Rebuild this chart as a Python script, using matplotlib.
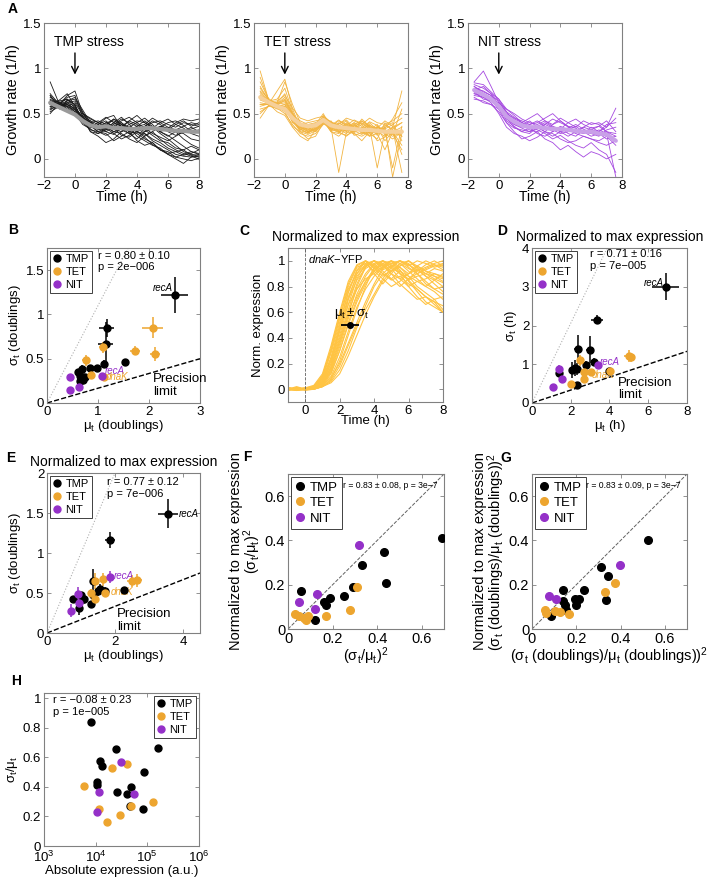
import matplotlib
matplotlib.use('Agg')
import matplotlib.pyplot as plt
from matplotlib.lines import Line2D
from matplotlib.ticker import FuncFormatter, NullLocator

plt.rcParams['font.family'] = ['Liberation Sans', 'DejaVu Sans']
plt.rcParams['mathtext.fontset'] = 'custom'
plt.rcParams['mathtext.rm'] = 'Liberation Sans'
plt.rcParams['mathtext.it'] = 'Liberation Sans:italic'
plt.rcParams['mathtext.default'] = 'regular'

TMP_C = 'k'
TET_C = '#EDA52F'
NIT_C = '#9430C8'

# ---------------- panel A: growth rate traces ----------------
t_grid = [-1.6, -1, -0.5, 0, 0.5, 1, 1.5, 2, 2.5, 3, 3.5, 4, 4.5, 5, 5.5, 6, 6.5, 7, 7.6]
t_tmp = [-1.6, -1, -0.5, 0, 0.5, 1, 1.5, 2, 2.5, 3, 3.5, 4, 4.5, 5, 5.5, 6, 6.5, 7, 7.5, 8]

tmp_traces = [
    [0.62, 0.58, 0.60, 0.55, 0.45, 0.38, 0.35, 0.40, 0.42, 0.38, 0.35, 0.30, 0.28, 0.20, 0.15, 0.10, 0.05, 0.03, 0.02, 0.03],
    [0.85, 0.60, 0.70, 0.75, 0.50, 0.40, 0.33, 0.30, 0.35, 0.40, 0.30, 0.32, 0.36, 0.40, 0.42, 0.38, 0.35, 0.40, 0.38, 0.36],
    [0.50, 0.62, 0.55, 0.50, 0.48, 0.36, 0.30, 0.28, 0.20, 0.25, 0.30, 0.28, 0.22, 0.18, 0.10, 0.05, 0.02, 0.00, -0.02, 0.01],
    [0.70, 0.55, 0.65, 0.60, 0.40, 0.42, 0.38, 0.45, 0.48, 0.35, 0.32, 0.35, 0.30, 0.33, 0.35, 0.40, 0.42, 0.37, 0.30, 0.32],
    [0.60, 0.65, 0.72, 0.58, 0.44, 0.30, 0.25, 0.18, 0.22, 0.30, 0.35, 0.25, 0.20, 0.15, 0.12, 0.05, 0.00, -0.05, 0.02, 0.05],
    [0.55, 0.60, 0.58, 0.52, 0.50, 0.45, 0.40, 0.36, 0.30, 0.33, 0.38, 0.42, 0.40, 0.35, 0.28, 0.22, 0.15, 0.08, 0.05, 0.04],
    [0.65, 0.58, 0.62, 0.54, 0.40, 0.35, 0.37, 0.33, 0.38, 0.44, 0.40, 0.36, 0.38, 0.45, 0.40, 0.35, 0.32, 0.36, 0.40, 0.38],
    [0.58, 0.62, 0.66, 0.60, 0.42, 0.38, 0.30, 0.35, 0.30, 0.28, 0.22, 0.18, 0.25, 0.30, 0.22, 0.15, 0.10, 0.06, 0.03, 0.00],
    [0.72, 0.60, 0.55, 0.48, 0.46, 0.40, 0.42, 0.38, 0.33, 0.30, 0.35, 0.40, 0.45, 0.38, 0.30, 0.25, 0.30, 0.28, 0.22, 0.20],
    [0.60, 0.56, 0.64, 0.66, 0.52, 0.36, 0.34, 0.40, 0.36, 0.32, 0.28, 0.30, 0.35, 0.32, 0.36, 0.30, 0.26, 0.30, 0.35, 0.30],
    [0.64, 0.60, 0.57, 0.50, 0.38, 0.33, 0.28, 0.32, 0.40, 0.36, 0.30, 0.20, 0.15, 0.18, 0.10, 0.08, 0.02, 0.05, 0.08, 0.06],
    [0.56, 0.63, 0.60, 0.56, 0.46, 0.40, 0.36, 0.30, 0.27, 0.34, 0.42, 0.38, 0.32, 0.26, 0.20, 0.18, 0.12, 0.10, 0.14, 0.10],
    [0.68, 0.62, 0.58, 0.62, 0.48, 0.42, 0.32, 0.36, 0.44, 0.40, 0.34, 0.30, 0.26, 0.30, 0.36, 0.34, 0.30, 0.22, 0.16, 0.12],
    [0.52, 0.58, 0.62, 0.58, 0.44, 0.34, 0.38, 0.42, 0.34, 0.26, 0.24, 0.30, 0.36, 0.42, 0.38, 0.32, 0.38, 0.34, 0.28, 0.25],
    [0.66, 0.60, 0.68, 0.70, 0.46, 0.30, 0.28, 0.34, 0.40, 0.46, 0.38, 0.30, 0.24, 0.16, 0.10, 0.06, 0.08, 0.04, 0.06, 0.10],
    [0.58, 0.56, 0.62, 0.64, 0.50, 0.44, 0.40, 0.34, 0.28, 0.22, 0.26, 0.34, 0.28, 0.22, 0.18, 0.12, 0.08, 0.10, 0.04, 0.02],
    [0.62, 0.64, 0.66, 0.56, 0.42, 0.36, 0.40, 0.46, 0.40, 0.36, 0.42, 0.48, 0.40, 0.34, 0.40, 0.44, 0.38, 0.42, 0.36, 0.40],
    [0.70, 0.58, 0.60, 0.52, 0.40, 0.32, 0.30, 0.26, 0.30, 0.34, 0.28, 0.22, 0.30, 0.36, 0.30, 0.26, 0.20, 0.14, 0.08, 0.05],
    [0.54, 0.60, 0.64, 0.68, 0.54, 0.40, 0.36, 0.32, 0.36, 0.42, 0.46, 0.40, 0.34, 0.28, 0.24, 0.20, 0.25, 0.30, 0.33, 0.36],
    [0.60, 0.62, 0.58, 0.54, 0.44, 0.38, 0.34, 0.38, 0.44, 0.38, 0.32, 0.36, 0.42, 0.36, 0.30, 0.34, 0.40, 0.44, 0.42, 0.44],
]
tmp_mean = [0.62, 0.57, 0.53, 0.49, 0.42, 0.37, 0.35, 0.36, 0.34, 0.34, 0.33, 0.33, 0.34, 0.34, 0.33, 0.32, 0.31, 0.31, 0.30, 0.30]

tet_traces = [
    [0.97, 0.62, 0.75, 0.88, 0.55, 0.35, 0.30, 0.33, 0.45, 0.38, 0.32, 0.35, 0.40, 0.30, 0.25, 0.35, 0.30, 0.28, 0.32],
    [0.45, 0.60, 0.62, 0.85, 0.60, 0.40, 0.35, 0.30, 0.42, 0.30, 0.28, 0.40, 0.35, 0.32, 0.38, 0.30, 0.25, 0.35, 0.40],
    [0.70, 0.65, 0.58, 0.60, 0.45, 0.30, 0.22, 0.25, 0.40, 0.35, -0.15, 0.30, 0.38, 0.28, 0.30, 0.35, 0.20, 0.30, 0.35],
    [0.80, 0.63, 0.62, 0.72, 0.50, 0.38, 0.40, 0.42, 0.44, 0.32, 0.40, 0.35, 0.30, 0.42, 0.35, -0.10, 0.30, 0.25, 0.30],
    [0.60, 0.60, 0.55, 0.55, 0.42, 0.33, 0.28, 0.35, 0.48, 0.40, 0.35, 0.30, 0.28, 0.25, 0.30, 0.28, 0.35, -0.20, 0.28],
    [0.75, 0.66, 0.60, 0.65, 0.48, 0.42, 0.38, 0.40, 0.45, 0.36, 0.42, 0.38, 0.35, 0.30, 0.40, 0.32, 0.30, 0.35, 0.75],
    [0.55, 0.58, 0.56, 0.50, 0.38, 0.28, 0.25, 0.28, 0.38, 0.42, 0.30, 0.25, 0.32, 0.38, 0.28, 0.22, 0.40, 0.30, 0.15],
    [0.85, 0.64, 0.66, 0.78, 0.52, 0.35, 0.32, 0.38, 0.50, 0.34, 0.36, 0.42, 0.30, 0.35, 0.32, 0.38, 0.28, 0.22, 0.30],
    [0.65, 0.61, 0.58, 0.58, 0.40, 0.36, 0.33, 0.30, 0.40, 0.38, 0.33, 0.28, 0.36, 0.40, 0.34, 0.30, 0.33, 0.38, 0.45],
    [0.72, 0.62, 0.60, 0.62, 0.46, 0.40, 0.30, 0.36, 0.43, 0.35, 0.30, 0.32, 0.40, 0.36, 0.25, 0.28, 0.10, 0.30, 0.25],
    [0.50, 0.60, 0.52, 0.48, 0.35, 0.25, 0.20, 0.32, 0.42, 0.30, 0.25, 0.33, 0.28, 0.20, 0.30, 0.35, 0.32, 0.28, 0.10],
    [0.90, 0.63, 0.64, 0.70, 0.56, 0.45, 0.42, 0.45, 0.47, 0.40, 0.38, 0.45, 0.42, 0.38, 0.45, 0.40, 0.38, 0.42, 0.50],
    [0.68, 0.62, 0.59, 0.56, 0.44, 0.32, 0.36, 0.34, 0.41, 0.37, 0.43, 0.36, 0.33, 0.44, 0.36, 0.26, 0.36, 0.40, 0.20],
    [0.62, 0.60, 0.57, 0.52, 0.36, 0.30, 0.27, 0.31, 0.39, 0.33, 0.29, 0.26, 0.31, 0.27, 0.33, 0.20, 0.24, 0.33, -0.15],
    [0.78, 0.64, 0.61, 0.66, 0.50, 0.37, 0.34, 0.37, 0.46, 0.39, 0.36, 0.31, 0.37, 0.33, 0.29, 0.36, 0.31, -0.10, 0.36],
    [0.58, 0.61, 0.60, 0.54, 0.43, 0.34, 0.31, 0.33, 0.44, 0.31, 0.34, 0.39, 0.26, 0.29, 0.37, 0.33, 0.29, 0.27, 0.55],
    [0.66, 0.62, 0.60, 0.64, 0.47, 0.36, 0.33, 0.35, 0.44, 0.36, 0.31, 0.37, 0.43, 0.39, 0.33, 0.29, 0.34, 0.44, 0.62],
    [0.52, 0.59, 0.56, 0.58, 0.41, 0.31, 0.29, 0.34, 0.46, 0.41, 0.37, 0.33, 0.29, 0.34, 0.41, 0.37, 0.27, 0.31, 0.05],
    [0.74, 0.63, 0.61, 0.68, 0.49, 0.39, 0.37, 0.39, 0.45, 0.33, 0.30, 0.34, 0.38, 0.42, 0.36, 0.31, 0.37, 0.33, 0.40],
    [0.60, 0.61, 0.58, 0.60, 0.44, 0.33, 0.29, 0.32, 0.41, 0.36, 0.39, 0.43, 0.34, 0.30, 0.26, 0.34, 0.42, 0.36, 0.25],
]
tet_mean = [0.68, 0.62, 0.58, 0.55, 0.45, 0.38, 0.36, 0.37, 0.43, 0.37, 0.35, 0.34, 0.33, 0.32, 0.32, 0.31, 0.30, 0.30, 0.30]

nit_traces = [
    [0.85, 0.97, 0.80, 0.62, 0.55, 0.48, 0.40, 0.45, 0.50, 0.42, 0.38, 0.45, 0.40, 0.35, 0.42, 0.38, 0.40, 0.35, 0.56],
    [0.75, 0.70, 0.65, 0.55, 0.45, 0.35, 0.30, 0.28, 0.35, 0.30, 0.25, 0.30, 0.32, 0.28, 0.25, 0.22, 0.20, 0.25, 0.15],
    [0.80, 0.72, 0.68, 0.60, 0.50, 0.45, 0.42, 0.38, 0.40, 0.45, 0.50, 0.42, 0.35, 0.30, 0.35, 0.40, 0.38, 0.30, 0.20],
    [0.68, 0.62, 0.60, 0.55, 0.40, 0.30, 0.22, 0.25, 0.30, 0.22, 0.18, 0.10, 0.15, 0.08, 0.02, 0.08, 0.05, 0.00, 0.05],
    [0.72, 0.70, 0.66, 0.62, 0.52, 0.40, 0.36, 0.42, 0.35, 0.30, 0.38, 0.42, 0.36, 0.30, 0.28, 0.35, 0.30, 0.38, 0.40],
    [0.78, 0.75, 0.70, 0.58, 0.48, 0.42, 0.38, 0.32, 0.30, 0.35, 0.32, 0.28, 0.30, 0.33, 0.30, 0.28, 0.32, 0.28, -0.20],
    [0.70, 0.68, 0.62, 0.50, 0.35, 0.28, 0.25, 0.20, 0.24, 0.30, 0.28, 0.22, 0.18, 0.20, 0.25, 0.22, 0.18, 0.15, 0.20],
    [0.82, 0.78, 0.72, 0.66, 0.55, 0.50, 0.44, 0.40, 0.38, 0.42, 0.36, 0.33, 0.40, 0.44, 0.38, 0.34, 0.36, 0.42, 0.30],
    [0.74, 0.66, 0.64, 0.58, 0.46, 0.38, 0.35, 0.38, 0.42, 0.36, 0.30, 0.35, 0.28, 0.25, 0.32, 0.30, 0.26, 0.30, 0.28],
    [0.76, 0.80, 0.72, 0.60, 0.42, 0.36, 0.30, 0.34, 0.28, 0.25, 0.30, 0.36, 0.32, 0.36, 0.30, 0.25, 0.28, 0.22, 0.25],
    [0.66, 0.64, 0.60, 0.52, 0.40, 0.34, 0.32, 0.30, 0.33, 0.38, 0.34, 0.30, 0.25, 0.30, 0.35, 0.32, 0.30, 0.35, 0.45],
    [0.80, 0.74, 0.70, 0.64, 0.50, 0.44, 0.40, 0.36, 0.32, 0.28, 0.22, 0.26, 0.20, 0.15, 0.12, 0.18, 0.10, 0.05, -0.15],
    [0.72, 0.68, 0.64, 0.56, 0.44, 0.38, 0.34, 0.30, 0.36, 0.40, 0.35, 0.30, 0.34, 0.38, 0.33, 0.28, 0.25, 0.32, 0.35],
    [0.84, 0.82, 0.74, 0.66, 0.52, 0.46, 0.40, 0.36, 0.34, 0.38, 0.44, 0.40, 0.36, 0.34, 0.28, 0.32, 0.36, 0.30, 0.25],
]
nit_mean = [0.76, 0.71, 0.66, 0.58, 0.47, 0.41, 0.37, 0.35, 0.35, 0.34, 0.33, 0.33, 0.32, 0.31, 0.30, 0.30, 0.28, 0.27, 0.20]

# ---------------- panel C: normalized dnaK-YFP expression ----------------
t_c = [-1, -0.5, 0, 0.5, 1, 1.5, 2, 2.5, 3, 3.5, 4, 4.5, 5, 5.5, 6, 6.5, 7, 7.5, 8]
dnak_traces = [
    [0, 0.01, 0, 0.02, 0.08, 0.25, 0.5, 0.75, 0.92, 1.0, 0.97, 0.9, 0.85, 0.88, 0.82, 0.78, 0.72, 0.68, 0.65],
    [0.01, 0, 0, 0.01, 0.04, 0.15, 0.35, 0.58, 0.8, 0.95, 1.0, 0.96, 0.92, 0.95, 0.9, 0.93, 0.88, 0.85, 0.8],
    [0, -0.01, 0, 0, 0.02, 0.08, 0.22, 0.42, 0.62, 0.8, 0.95, 1.0, 0.97, 0.92, 0.85, 0.88, 0.9, 0.94, 0.92],
    [-0.01, 0, 0, 0.01, 0.06, 0.2, 0.45, 0.7, 0.9, 1.0, 0.94, 0.88, 0.92, 0.96, 1.0, 0.95, 0.9, 0.86, 0.83],
    [0, 0.01, 0, 0, 0.03, 0.12, 0.3, 0.5, 0.68, 0.82, 0.92, 0.98, 1.0, 0.95, 0.88, 0.8, 0.75, 0.7, 0.62],
    [0, 0, 0, 0.02, 0.1, 0.3, 0.55, 0.8, 0.95, 0.98, 0.92, 0.86, 0.8, 0.84, 0.9, 0.96, 1.0, 0.97, 0.95],
    [0.01, 0, -0.01, 0, 0.02, 0.06, 0.15, 0.3, 0.48, 0.65, 0.8, 0.9, 0.96, 1.0, 0.97, 0.93, 0.9, 0.88, 0.86],
    [0, 0.02, 0, 0.01, 0.05, 0.18, 0.4, 0.62, 0.82, 0.96, 1.0, 0.97, 0.9, 0.82, 0.76, 0.7, 0.72, 0.68, 0.6],
    [0, 0, 0.01, 0.01, 0.07, 0.22, 0.48, 0.72, 0.88, 0.96, 1.0, 0.98, 0.95, 0.9, 0.86, 0.9, 0.93, 0.96, 0.98],
    [-0.01, 0.01, 0, 0, 0.03, 0.1, 0.25, 0.45, 0.64, 0.78, 0.88, 0.95, 1.0, 0.98, 0.94, 0.9, 0.84, 0.78, 0.74],
    [0, 0, 0, 0.02, 0.09, 0.28, 0.52, 0.76, 0.93, 1.0, 0.96, 0.93, 0.96, 1.0, 0.97, 0.92, 0.95, 0.98, 1.0],
    [0.01, 0, 0, 0.01, 0.04, 0.14, 0.33, 0.55, 0.74, 0.88, 0.97, 1.0, 0.94, 0.86, 0.8, 0.84, 0.8, 0.76, 0.7],
    [0, 0.01, 0, 0, 0.02, 0.05, 0.12, 0.26, 0.42, 0.58, 0.72, 0.84, 0.92, 0.98, 1.0, 0.96, 0.92, 0.9, 0.88],
    [0, 0, 0.01, 0.03, 0.12, 0.34, 0.6, 0.84, 0.97, 1.0, 0.95, 0.9, 0.86, 0.92, 0.88, 0.84, 0.86, 0.9, 0.87],
    [0, -0.01, 0, 0.01, 0.05, 0.16, 0.38, 0.6, 0.78, 0.9, 0.98, 1.0, 0.96, 0.9, 0.85, 0.78, 0.72, 0.66, 0.6],
    [0.01, 0, 0, 0.01, 0.06, 0.2, 0.42, 0.66, 0.86, 0.98, 1.0, 0.94, 0.98, 1.0, 0.95, 0.9, 0.94, 0.97, 0.93],
    [0, 0, 0, 0.01, 0.03, 0.09, 0.2, 0.36, 0.52, 0.68, 0.82, 0.94, 1.0, 0.93, 0.84, 0.76, 0.68, 0.64, 0.6],
    [0, 0.01, 0, 0.02, 0.1, 0.32, 0.58, 0.82, 0.96, 1.0, 0.9, 0.82, 0.9, 0.98, 0.92, 0.86, 0.8, 0.85, 0.9],
    [0.01, 0, 0, 0.01, 0.05, 0.17, 0.37, 0.57, 0.72, 0.84, 0.92, 1.0, 0.98, 1.0, 0.96, 1.0, 0.98, 0.95, 0.97],
    [0, 0, 0.01, 0.02, 0.08, 0.24, 0.46, 0.66, 0.78, 0.86, 0.9, 0.96, 1.0, 0.9, 0.8, 0.72, 0.66, 0.7, 0.72],
    [0, -0.01, 0, 0, 0.02, 0.07, 0.18, 0.34, 0.5, 0.62, 0.74, 0.86, 0.95, 1.0, 0.98, 0.9, 0.82, 0.78, 0.8],
    [0.01, 0, 0, 0.01, 0.07, 0.23, 0.47, 0.7, 0.85, 0.94, 0.98, 0.92, 0.86, 0.8, 0.86, 0.92, 0.97, 1.0, 0.96],
    [0, 0.01, 0, 0.01, 0.04, 0.13, 0.3, 0.52, 0.7, 0.84, 0.94, 0.98, 0.92, 0.96, 1.0, 0.94, 0.88, 0.82, 0.76],
    [0, 0, 0, 0.02, 0.11, 0.3, 0.56, 0.78, 0.9, 0.97, 1.0, 0.96, 0.9, 0.86, 0.9, 0.96, 0.92, 0.88, 0.84],
]
dnak_mu, dnak_sigma, dnak_level = 2.6, 0.55, 0.5

# ---------------- panel B: timing in doublings ----------------
b_tmp_mu = [2.50, 1.17, 1.15, 1.12, 1.52, 0.98, 0.85, 0.68, 0.60, 0.65, 0.70, 0.75, 0.65, 0.70]
b_tmp_sig = [1.22, 0.85, 0.67, 0.44, 0.46, 0.40, 0.40, 0.38, 0.35, 0.30, 0.29, 0.29, 0.25, 0.26]
b_tmp_xe = [0.27, 0.15, 0.15, 0.05, 0.05, 0.05, 0.05, 0.05, 0.05, 0.05, 0.05, 0.05, 0.04, 0.04]
b_tmp_ye = [0.20, 0.10, 0.25, 0.04, 0.04, 0.03, 0.03, 0.05, 0.03, 0.03, 0.03, 0.03, 0.03, 0.03]
b_tet_mu = [1.10, 2.07, 1.73, 2.12, 0.77, 0.87, 1.12]
b_tet_sig = [0.63, 0.85, 0.59, 0.55, 0.48, 0.32, 0.29]
b_tet_xe = [0.08, 0.20, 0.10, 0.10, 0.08, 0.04, 0.04]
b_tet_ye = [0.06, 0.12, 0.05, 0.08, 0.06, 0.03, 0.03]
b_nit_mu = [1.07, 0.45, 0.45, 0.63]
b_nit_sig = [0.31, 0.29, 0.15, 0.18]
b_nit_xe = [0.04, 0.03, 0.03, 0.03]
b_nit_ye = [0.03, 0.03, 0.03, 0.03]

# ---------------- panel D: timing in hours ----------------
d_tmp_mu = [6.90, 3.35, 2.35, 3.00, 2.20, 2.05, 2.30, 2.80, 3.20, 3.95, 1.40, 2.30]
d_tmp_sig = [3.00, 2.15, 1.40, 1.38, 0.90, 0.85, 0.87, 0.98, 1.05, 0.82, 0.78, 0.47]
d_tmp_xe = [0.70, 0.30, 0.20, 0.20, 0.20, 0.15, 0.15, 0.15, 0.15, 0.10, 0.08, 0.08]
d_tmp_ye = [0.35, 0.12, 0.35, 0.35, 0.20, 0.20, 0.15, 0.10, 0.10, 0.05, 0.08, 0.05]
d_tet_mu = [5.00, 5.10, 2.50, 2.70, 3.05, 4.05, 2.70, 2.00]
d_tet_sig = [1.22, 1.18, 1.10, 0.80, 0.80, 0.82, 0.63, 0.50]
d_tet_xe = [0.25, 0.20, 0.10, 0.10, 0.10, 0.10, 0.08, 0.08]
d_tet_ye = [0.15, 0.12, 0.15, 0.08, 0.08, 0.08, 0.06, 0.05]
d_nit_mu = [1.40, 1.55, 1.10, 3.40]
d_nit_sig = [0.87, 0.62, 0.40, 0.97]
d_nit_xe = [0.08, 0.08, 0.06, 0.08]
d_nit_ye = [0.12, 0.10, 0.10, 0.06]

# ---------------- panel E: normalized, doublings ----------------
e_tmp_mu = [3.55, 1.85, 1.35, 1.55, 1.50, 1.70, 2.25, 1.00, 1.05, 1.10, 0.75, 0.95, 1.30, 1.35]
e_tmp_sig = [1.49, 1.16, 0.65, 0.55, 0.52, 0.53, 0.54, 0.47, 0.43, 0.42, 0.42, 0.31, 0.36, 0.47]
e_tmp_xe = [0.30, 0.15, 0.10, 0.10, 0.08, 0.08, 0.06, 0.05, 0.05, 0.05, 0.05, 0.05, 0.05, 0.05]
e_tmp_ye = [0.18, 0.10, 0.15, 0.06, 0.06, 0.05, 0.04, 0.04, 0.04, 0.04, 0.04, 0.08, 0.04, 0.05]
e_tet_mu = [1.40, 1.65, 2.50, 2.65, 1.40, 1.70, 1.30]
e_tet_sig = [0.65, 0.67, 0.65, 0.66, 0.42, 0.50, 0.50]
e_tet_xe = [0.08, 0.08, 0.15, 0.15, 0.06, 0.06, 0.06]
e_tet_ye = [0.10, 0.08, 0.08, 0.08, 0.05, 0.05, 0.05]
e_nit_mu = [1.85, 0.90, 0.95, 0.70]
e_nit_sig = [0.70, 0.49, 0.38, 0.28]
e_nit_xe = [0.06, 0.05, 0.05, 0.05]
e_nit_ye = [0.08, 0.08, 0.05, 0.08]

# ---------------- panels F, G: squared CV ----------------
f_tmp_x = [0.69, 0.43, 0.44, 0.33, 0.29, 0.25, 0.19, 0.16, 0.17, 0.06, 0.12]
f_tmp_y = [0.41, 0.35, 0.21, 0.29, 0.19, 0.15, 0.14, 0.12, 0.11, 0.17, 0.04]
f_tet_x = [0.31, 0.28, 0.17, 0.03, 0.05, 0.07, 0.08, 0.09]
f_tet_y = [0.19, 0.085, 0.06, 0.07, 0.06, 0.05, 0.04, 0.06]
f_nit_x = [0.32, 0.13, 0.05, 0.12]
f_nit_y = [0.38, 0.16, 0.12, 0.09]

g_tmp_x = [0.524, 0.313, 0.343, 0.334, 0.140, 0.140, 0.148, 0.155, 0.196, 0.211, 0.200, 0.236, 0.086]
g_tmp_y = [0.40, 0.279, 0.239, 0.131, 0.178, 0.125, 0.107, 0.088, 0.136, 0.136, 0.107, 0.178, 0.06]
g_tet_x = [0.377, 0.331, 0.166, 0.125, 0.102, 0.057, 0.063]
g_tet_y = [0.208, 0.166, 0.068, 0.077, 0.080, 0.088, 0.073]
g_nit_x = [0.396, 0.078, 0.108]
g_nit_y = [0.29, 0.151, 0.136]

# ---------------- panel H: CV vs absolute expression ----------------
h_tmp_x = [8.0e3, 2.5e4, 1.6e5, 1.2e4, 1.3e4, 8.7e4, 1.08e4, 1.08e4, 2.6e4, 4.0e4, 4.9e4, 4.7e4, 8.1e4]
h_tmp_y = [0.836, 0.656, 0.663, 0.575, 0.544, 0.499, 0.434, 0.411, 0.364, 0.351, 0.400, 0.272, 0.252]
h_tet_x = [5.9e3, 2.1e4, 4.1e4, 1.15e4, 1.66e4, 3.0e4, 4.9e4, 1.3e5]
h_tet_y = [0.409, 0.526, 0.557, 0.249, 0.162, 0.211, 0.274, 0.297]
h_nit_x = [3.1e4, 1.15e4, 5.6e4, 1.07e4]
h_nit_y = [0.569, 0.362, 0.355, 0.227]

precision_slope = 1 / 6


def tick_fmt(v, pos):
    return f'{v:g}'.replace('-', '\u2212')


def style_ax(ax, xlim, ylim, xticks, yticks, fs=9.5):
    ax.set_xlim(xlim)
    ax.set_ylim(ylim)
    if xticks is not None:
        ax.set_xticks(xticks)
        ax.xaxis.set_major_formatter(FuncFormatter(tick_fmt))
    ax.set_yticks(yticks)
    ax.yaxis.set_major_formatter(FuncFormatter(tick_fmt))
    ax.tick_params(direction='in', top=True, right=True, length=3, width=0.6,
                   color='#808080', labelsize=fs, pad=2)
    for s in ax.spines.values():
        s.set_color('#808080')
        s.set_linewidth(0.8)


def legend3(ax, loc, fs, ms):
    hs = [Line2D([], [], marker='o', ls='', color=c, ms=ms) for c in (TMP_C, TET_C, NIT_C)]
    leg = ax.legend(hs, ['TMP', 'TET', 'NIT'], loc=loc, fontsize=fs, fancybox=False,
                    edgecolor='#404040', framealpha=1, handlelength=0.7, handletextpad=0.4,
                    borderpad=0.3, labelspacing=0.25, borderaxespad=0.25)
    leg.get_frame().set_linewidth(0.7)
    leg.set_zorder(4)


def err_groups(ax, groups):
    for mu, sig, xe, ye, col in groups:
        ax.errorbar(mu, sig, xerr=xe, yerr=ye, fmt='o', color=col, mec=col, ms=5,
                    elinewidth=1.1, capsize=0, zorder=3)


fig = plt.figure(figsize=(7.08, 8.82), dpi=100)

# ---- A ----
a_specs = [
    ([0.0621, 0.7993, 0.2189, 0.1746], t_tmp, tmp_traces, tmp_mean, '#1a1a1a', '#9a9a9a', 'TMP stress', 0.9),
    ([0.3588, 0.7993, 0.2175, 0.1746], t_grid, tet_traces, tet_mean, '#F2B440', '#F6D09A', 'TET stress', 0.8),
    ([0.6610, 0.7993, 0.2175, 0.1746], t_grid, nit_traces, nit_mean, '#A548E0', '#C9A0E8', 'NIT stress', 0.7),
]
for rect, t, traces, mean, col, mcol, lab, tx in a_specs:
    ax = fig.add_axes(rect)
    for tr in traces:
        ax.plot(t, tr, color=col, lw=0.6)
    ax.plot(t, mean, color=mcol, lw=3, solid_capstyle='round')
    ax.annotate('', xy=(0, 0.9), xytext=(0, 1.2),
                arrowprops=dict(arrowstyle='->', lw=1.0, color='k', mutation_scale=12))
    ax.text(tx, 1.29, lab, ha='center', va='center', fontsize=10)
    style_ax(ax, (-2, 8), (-0.2, 1.5), [-2, 0, 2, 4, 6, 8], [0, 0.5, 1, 1.5])
    ax.set_xlabel('Time (h)', fontsize=10, labelpad=-1)
    ax.set_ylabel('Growth rate (1/h)', fontsize=10.5, labelpad=2)

# ---- B ----
ax = fig.add_axes([0.0664, 0.5431, 0.2161, 0.1757])
ax.axline((0, 0), slope=1.1, color='#b0b0b0', ls=':', lw=0.8)
ax.axline((0, 0), slope=precision_slope, color='k', ls='--', lw=1.0)
err_groups(ax, [(b_tmp_mu, b_tmp_sig, b_tmp_xe, b_tmp_ye, TMP_C),
                (b_tet_mu, b_tet_sig, b_tet_xe, b_tet_ye, TET_C),
                (b_nit_mu, b_nit_sig, b_nit_xe, b_nit_ye, NIT_C)])
ax.text(2.47, 1.30, 'recA', style='italic', fontsize=7, ha='right', va='center')
ax.text(1.14, 0.36, 'recA', style='italic', fontsize=7, color=NIT_C, ha='left', va='center')
ax.text(1.16, 0.29, 'dnaK', style='italic', fontsize=7, color=TET_C, ha='left', va='center')
ax.text(2.08, 0.2, 'Precision\nlimit', fontsize=9.5, ha='left', va='center', linespacing=1.1)
ax.text(1.0, 1.72, 'r = 0.80 \u00b1 0.10\np = 2e\u2212006', fontsize=8, ha='left', va='top')
style_ax(ax, (0, 3), (0, 1.75), [0, 1, 2, 3], [0, 0.5, 1, 1.5])
legend3(ax, 'upper left', 8, 5)
ax.set_xlabel(r'$\mu_t$ (doublings)', fontsize=9.5, labelpad=0)
ax.set_ylabel(r'$\sigma_t$ (doublings)', fontsize=9.5, labelpad=2)

# ---- C ----
ax = fig.add_axes([0.4068, 0.5442, 0.2189, 0.1746])
for tr in dnak_traces:
    ax.plot(t_c, tr, color='#FFC443', lw=0.8)
ax.axvline(0, color='#606060', ls='--', lw=0.6)
ax.errorbar([dnak_mu], [dnak_level], xerr=[dnak_sigma], fmt='o', color='k', ms=4,
            elinewidth=1.3, capsize=0, zorder=4)
ax.text(2.72, 0.53, r'$\mu_t \pm \sigma_t$', fontsize=9.5, ha='center', va='bottom')
ax.text(0.18, 1.015, r'$\mathit{dnaK}$' + '\u2212YFP', fontsize=8, ha='left', va='center')
style_ax(ax, (-1, 8), (-0.1, 1.1), [0, 2, 4, 6, 8], [0, 0.2, 0.4, 0.6, 0.8, 1])
ax.set_title('Normalized to max expression', fontsize=10, pad=5)
ax.set_xlabel('Time (h)', fontsize=9.5, labelpad=-1)
ax.set_ylabel('Norm. expression', fontsize=9.5, labelpad=2)

# ---- D ----
ax = fig.add_axes([0.7514, 0.5431, 0.2189, 0.1757])
ax.axline((0, 0), slope=1.03, color='#b0b0b0', ls=':', lw=0.8)
ax.axline((0, 0), slope=precision_slope, color='k', ls='--', lw=1.0)
err_groups(ax, [(d_tmp_mu, d_tmp_sig, d_tmp_xe, d_tmp_ye, TMP_C),
                (d_tet_mu, d_tet_sig, d_tet_xe, d_tet_ye, TET_C),
                (d_nit_mu, d_nit_sig, d_nit_xe, d_nit_ye, NIT_C)])
ax.text(5.75, 3.1, 'recA', style='italic', fontsize=7, ha='left', va='center')
ax.text(3.5, 1.05, 'recA', style='italic', fontsize=7, color=NIT_C, ha='left', va='center')
ax.text(3.1, 0.72, 'dnaK', style='italic', fontsize=7, color=TET_C, ha='left', va='center')
ax.text(4.44, 0.36, 'Precision\nlimit', fontsize=9.5, ha='left', va='center', linespacing=1.1)
ax.text(3.0, 3.97, 'r = 0.71 \u00b1 0.16\np = 7e\u2212005', fontsize=8, ha='left', va='top')
style_ax(ax, (0, 8), (0, 4), [0, 2, 4, 6, 8], [0, 1, 2, 3, 4])
legend3(ax, 'upper left', 8, 5)
ax.set_title('Normalized to max expression', fontsize=10, pad=5)
ax.set_xlabel(r'$\mu_t$ (h)', fontsize=9.5, labelpad=0)
ax.set_ylabel(r'$\sigma_t$ (h)', fontsize=9.5, labelpad=2)

# ---- E ----
ax = fig.add_axes([0.0664, 0.2823, 0.2161, 0.1814])
ax.axline((0, 0), slope=1.0, color='#b0b0b0', ls=':', lw=0.8)
ax.axline((0, 0), slope=precision_slope, color='k', ls='--', lw=1.0)
err_groups(ax, [(e_tmp_mu, e_tmp_sig, e_tmp_xe, e_tmp_ye, TMP_C),
                (e_tet_mu, e_tet_sig, e_tet_xe, e_tet_ye, TET_C),
                (e_nit_mu, e_nit_sig, e_nit_xe, e_nit_ye, NIT_C)])
ax.text(3.88, 1.49, 'recA', style='italic', fontsize=7, ha='left', va='center')
ax.text(1.98, 0.71, 'recA', style='italic', fontsize=7, color=NIT_C, ha='left', va='center')
ax.text(1.86, 0.51, 'dnaK', style='italic', fontsize=7, color=TET_C, ha='left', va='center')
ax.text(2.05, 0.16, 'Precision\nlimit', fontsize=9.5, ha='left', va='center', linespacing=1.1)
ax.text(1.77, 1.95, 'r = 0.77 \u00b1 0.12\np = 7e\u2212006', fontsize=8, ha='left', va='top')
style_ax(ax, (0, 4.5), (0, 2), [0, 2, 4], [0, 0.5, 1, 1.5, 2])
legend3(ax, 'upper left', 8, 5)
ax.set_title('Normalized to max expression', fontsize=10, pad=5)
ax.set_xlabel(r'$\mu_t$ (doublings)', fontsize=9.5, labelpad=0)
ax.set_ylabel(r'$\sigma_t$ (doublings)', fontsize=9.5, labelpad=2)

# ---- F, G ----
fg_specs = [
    ([0.4068, 0.2868, 0.2203, 0.1757],
     [(f_tmp_x, f_tmp_y, TMP_C), (f_tet_x, f_tet_y, TET_C), (f_nit_x, f_nit_y, NIT_C)],
     'r = 0.83 \u00b1 0.08, p = 3e\u22127',
     r'$(\sigma_t/\mu_t)^2$',
     'Normalized to max expression\n' + r'$(\sigma_t/\mu_t)^2$'),
    ([0.7514, 0.2868, 0.2189, 0.1757],
     [(g_tmp_x, g_tmp_y, TMP_C), (g_tet_x, g_tet_y, TET_C), (g_nit_x, g_nit_y, NIT_C)],
     'r = 0.83 \u00b1 0.09, p = 3e\u22127',
     r'$(\sigma_t$ (doublings)$/\mu_t$ (doublings)$)^2$',
     'Normalized to max expression\n' + r'$(\sigma_t$ (doublings)$/\mu_t$ (doublings)$)^2$'),
]
for rect, groups, ann, xl, yl in fg_specs:
    ax = fig.add_axes(rect)
    ax.axline((0, 0), slope=1, color='#606060', ls='--', lw=0.7)
    for x, y, col in groups:
        ax.plot(x, y, 'o', color=col, ms=5.5, zorder=3)
    ax.text(0.245, 0.648, ann, fontsize=6.2, ha='left', va='center', zorder=6)
    style_ax(ax, (0, 0.7), (0, 0.7), [0, 0.2, 0.4, 0.6], [0, 0.2, 0.4, 0.6], fs=10.5)
    legend3(ax, 'upper left', 9.5, 5.5)
    ax.set_xlabel(xl, fontsize=10.5, labelpad=0)
    ax.set_ylabel(yl, fontsize=10.5, labelpad=1, linespacing=0.95)

# ---- H ----
ax = fig.add_axes([0.0621, 0.0408, 0.2189, 0.1735])
for x, y, col in [(h_tmp_x, h_tmp_y, TMP_C), (h_tet_x, h_tet_y, TET_C), (h_nit_x, h_nit_y, NIT_C)]:
    ax.plot(x, y, 'o', color=col, ms=5, zorder=3)
ax.set_xscale('log')
style_ax(ax, (1e3, 1e6), (0, 1.035), None, [0, 0.2, 0.4, 0.6, 0.8, 1])
ax.set_xticks([1e3, 1e4, 1e5, 1e6])
ax.xaxis.set_minor_locator(NullLocator())
ax.tick_params(axis='x', pad=3)
ax.text(1.5e3, 1.02, 'r = \u22120.08 \u00b1 0.23\np = 1e\u2212005', fontsize=8, ha='left', va='top')
legend3(ax, 'upper right', 8, 5)
ax.set_xlabel('Absolute expression (a.u.)', fontsize=9.5, labelpad=0)
ax.set_ylabel(r'$\sigma_t/\mu_t$', fontsize=9.5, labelpad=2)

# panel letters
for lab, px, py in [('A', 13, 9), ('B', 13, 230), ('C', 244, 231), ('D', 502, 231),
                    ('E', 11, 458), ('F', 247, 457), ('G', 506, 458), ('H', 16, 681)]:
    fig.text(px / 708, 1 - py / 882, lab, fontsize=10, fontweight='bold', ha='center', va='center')

fig.savefig('out.png', dpi=100)
